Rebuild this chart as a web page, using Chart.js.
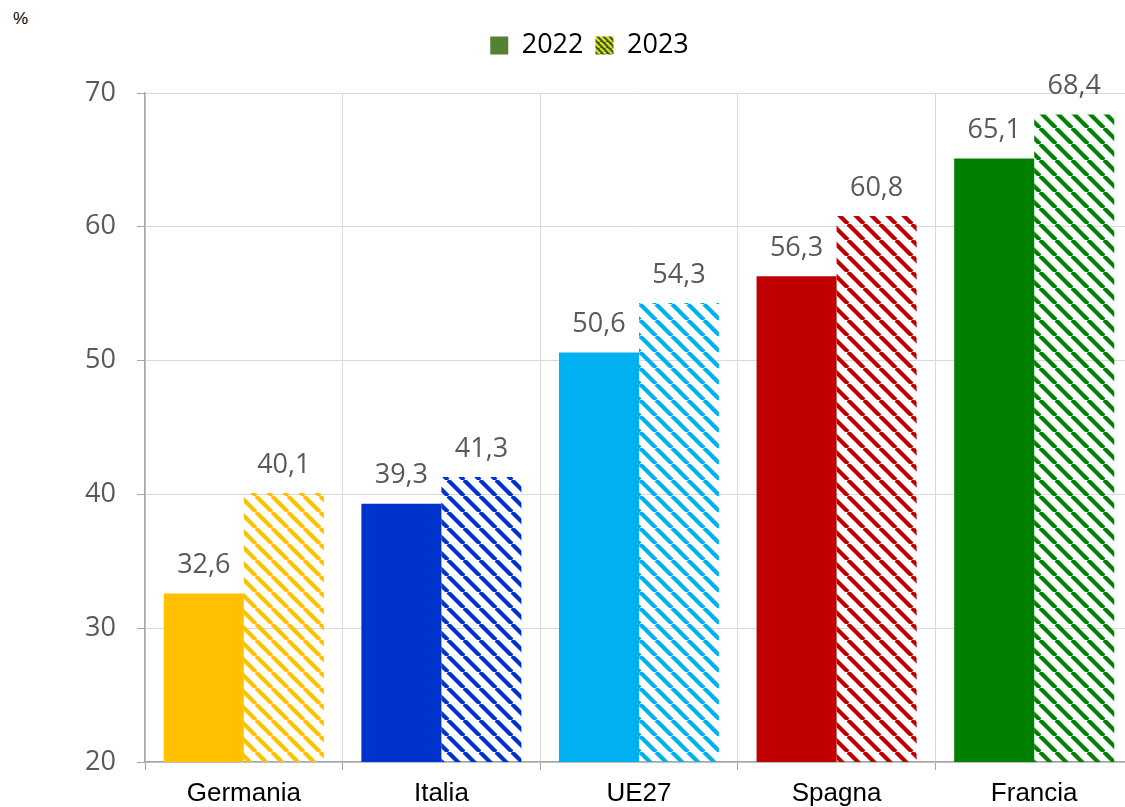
<!DOCTYPE html>
<html lang="it">

<head>
  <meta charset="UTF-8" />
  <title>Confronto 2022 / 2023</title>
  <script src="https://cdn.jsdelivr.net/npm/chart.js"></script>
  <style>
    body { margin: 0; overflow: hidden; background: #fff; }
    .unita { position: absolute; left: 13px; top: 9px; font: 17px "Liberation Sans", Arial, sans-serif; color: #000; }
    .box-grafico { position: absolute; left: 0; top: 0; width: 1135px; height: 807px; }
  </style>
</head>

<body>
  <div class="unita">%</div>
  <div class="box-grafico">
    <canvas id="grafico"></canvas>
  </div>

  <script>
    // dati
    const paesi = ['Germania', 'Italia', 'UE27', 'Spagna', 'Francia'];
    const valori2022 = [32.6, 39.3, 50.6, 56.3, 65.1];
    const valori2023 = [40.1, 41.3, 54.3, 60.8, 68.4];
    const anni = ['2022', '2023'];
    const tickY = [20, 30, 40, 50, 60, 70];

    const coloriPaesi = ['#FFC000', '#0033CC', '#00B0F0', '#C00000', '#008000'];

    // tratteggio diagonale per le barre 2023
    function tratteggio(colore, sfondo, lato, spessore) {
      const c = document.createElement('canvas');
      c.width = lato;
      c.height = lato;
      const g = c.getContext('2d');
      if (sfondo) {
        g.fillStyle = sfondo;
        g.fillRect(0, 0, lato, lato);
      }
      g.strokeStyle = colore;
      g.lineWidth = spessore;
      g.beginPath();
      [-lato, 0, lato].forEach(k => {
        g.moveTo(k, 0);
        g.lineTo(k + lato, lato);
      });
      g.stroke();
      return g.createPattern(c, 'repeat');
    }

    const pattern2023 = coloriPaesi.map(col => tratteggio(col, null, 16, 4.2));
    const legendaPattern = tratteggio('#C8E000', '#404040', 6, 2.6);

    const formatta = v => v.toFixed(1).replace('.', ',');

    // etichette sopra le barre
    const etichette = {
      id: 'etichette',
      afterDatasetsDraw(chart) {
        const ctx = chart.ctx;
        ctx.save();
        ctx.font = '27px "Open Sans", sans-serif';
        ctx.fillStyle = '#595959';
        ctx.textAlign = 'center';
        ctx.textBaseline = 'middle';
        chart.data.datasets.forEach((ds, i) => {
          chart.getDatasetMeta(i).data.forEach((bar, j) => {
            ctx.fillText(formatta(ds.data[j]), bar.x, bar.y - 28);
          });
        });
        ctx.restore();
      }
    };

    // spazio sotto la legenda
    const spazioLegenda = {
      id: 'spazioLegenda',
      beforeInit(chart) {
        const leg = chart.legend;
        if (!leg || leg._fitOrig) return;
        leg._fitOrig = leg.fit;
        leg.fit = function () {
          this._fitOrig();
          this.height = 73;
        };
      }
    };

    const ctx = document.getElementById('grafico').getContext('2d');

    new Chart(ctx, {
      type: 'bar',
      data: {
        labels: paesi,
        datasets: [{
          label: anni[0],
          data: valori2022,
          backgroundColor: coloriPaesi
        }, {
          label: anni[1],
          data: valori2023,
          backgroundColor: pattern2023
        }]
      },
      options: {
        responsive: true,
        maintainAspectRatio: false,
        animation: false,
        categoryPercentage: 0.81,
        barPercentage: 1.0,
        layout: {
          padding: { left: 46, right: 2, top: 20, bottom: 0 }
        },
        plugins: {
          tooltip: { enabled: false },
          legend: {
            position: 'top',
            labels: {
              boxWidth: 18,
              boxHeight: 18,
              padding: 12,
              color: '#000',
              font: { family: '"Open Sans", sans-serif', size: 27 },
              generateLabels() {
                return [
                  { text: anni[0], fillStyle: '#548235', strokeStyle: '#548235', lineWidth: 0, datasetIndex: 0 },
                  { text: anni[1], fillStyle: legendaPattern, strokeStyle: '#404040', lineWidth: 0, datasetIndex: 1 }
                ];
              }
            }
          }
        },
        scales: {
          x: {
            afterFit(scale) { scale.height = 45; },
            grid: {
              offset: true,
              color: '#d9d9d9',
              tickColor: '#a6a6a6',
              tickLength: 8
            },
            border: { color: '#a6a6a6', width: 1.5 },
            ticks: {
              color: '#000',
              padding: 8,
              font: { family: '"Liberation Sans", Arial, sans-serif', size: 26 }
            }
          },
          y: {
            min: tickY[0],
            max: tickY[tickY.length - 1],
            afterFit(scale) { scale.width = 99; },
            afterBuildTicks(scale) { scale.ticks = tickY.map(v => ({ value: v })); },
            grid: {
              color: '#d9d9d9',
              tickColor: '#a6a6a6',
              tickLength: 8
            },
            border: { color: '#a6a6a6', width: 1.5 },
            ticks: {
              color: '#595959',
              padding: 21,
              font: { family: '"Open Sans", sans-serif', size: 27 }
            }
          }
        }
      },
      plugins: [etichette, spazioLegenda]
    });
  </script>
</body>

</html>
